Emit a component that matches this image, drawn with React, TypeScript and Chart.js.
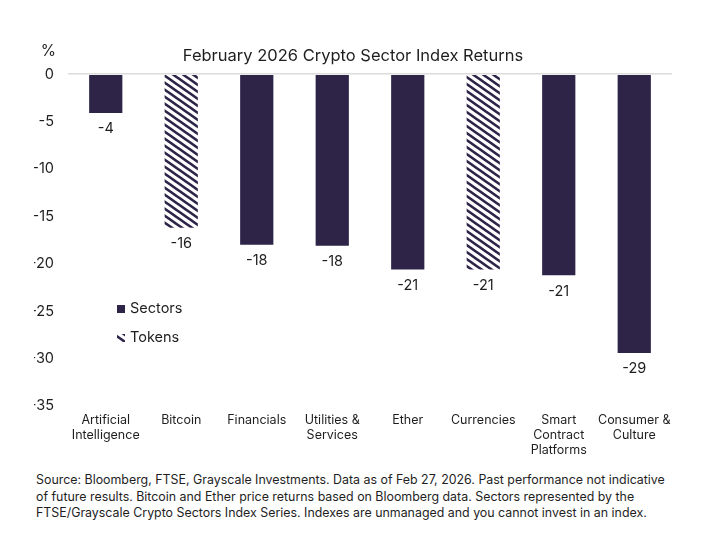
import React, { useEffect, useRef } from "react";
import { Chart, registerables } from "chart.js";

Chart.register(...registerables);

// Category labels (multi-line where the label wraps)
const categories: (string | string[])[] = [
  ["Artificial", "Intelligence"],
  "Bitcoin",
  "Financials",
  ["Utilities &", "Services"],
  "Ether",
  "Currencies",
  ["Smart", "Contract", "Platforms"],
  ["Consumer &", "Culture"],
];

// Monthly index returns, %
const sectorReturns: (number | null)[] = [-4.1, null, -18.0, -18.1, -20.6, null, -21.2, -29.4];
const tokenReturns: (number | null)[] = [null, -16.2, null, null, null, -20.6, null, null];

const seriesNames = ["Sectors", "Tokens"];
const yMin = -35;
const yMax = 0;
const yStep = 5;

const TITLE = "February 2026 Crypto Sector Index Returns";
const FOOTNOTE_LINES = [
  "Source: Bloomberg, FTSE, Grayscale Investments. Data as of Feb 27, 2026. Past performance not indicative",
  "of future results. Bitcoin and Ether price returns based on Bloomberg data. Sectors represented by the",
  "FTSE/Grayscale Crypto Sectors Index Series. Indexes are unmanaged and you cannot invest in an index.",
];

const NAVY = "#2e2448";
const TEXT = "#1e1e1e";
const FONT = "Inter, 'Noto Sans', sans-serif";

function makeHatch(): CanvasPattern | string {
  const w = 10;
  const h = 7;
  const c = document.createElement("canvas");
  c.width = w;
  c.height = h;
  const ctx = c.getContext("2d");
  if (!ctx) return NAVY;
  ctx.fillStyle = "#ffffff";
  ctx.fillRect(0, 0, w, h);
  ctx.strokeStyle = NAVY;
  ctx.lineWidth = 2.6;
  for (let k = -1; k <= 1; k++) {
    ctx.beginPath();
    ctx.moveTo(-w, -h + k * h);
    ctx.lineTo(2 * w, 2 * h + k * h);
    ctx.stroke();
  }
  return ctx.createPattern(c, "repeat") || NAVY;
}

const valueLabels = {
  id: "valueLabels",
  afterDatasetsDraw(chart: any) {
    const ctx = chart.ctx;
    ctx.save();
    ctx.font = `14.5px ${FONT}`;
    ctx.fillStyle = TEXT;
    ctx.textAlign = "center";
    ctx.textBaseline = "middle";
    chart.data.datasets.forEach((ds: any, i: number) => {
      const meta = chart.getDatasetMeta(i);
      meta.data.forEach((el: any, j: number) => {
        const v = ds.data[j];
        if (v === null || v === undefined) return;
        ctx.fillText(String(Math.round(v)), el.x, el.y + 16);
      });
    });
    ctx.restore();
  },
};

const extras = {
  id: "extras",
  afterDraw(chart: any) {
    const ctx = chart.ctx;
    const area = chart.chartArea;
    ctx.save();
    // unit label above the y axis
    ctx.font = `15.5px ${FONT}`;
    ctx.fillStyle = TEXT;
    ctx.textAlign = "right";
    ctx.textBaseline = "middle";
    ctx.fillText("%", area.left - 12, 43);

    // legend inside the plot area
    ctx.font = `14.5px ${FONT}`;
    ctx.textAlign = "left";
    chart.data.datasets.forEach((ds: any, i: number) => {
      const y = 301 + i * 29;
      const x = area.left + 49;
      ctx.fillStyle = ds.backgroundColor;
      ctx.fillRect(x, y - 4, 8, 8);
      ctx.fillStyle = TEXT;
      ctx.fillText(ds.label, x + 13, y);
    });
    ctx.restore();
  },
};

export default function App() {
  const ref = useRef<HTMLCanvasElement | null>(null);

  useEffect(() => {
    if (!ref.current) return;
    const hatch = makeHatch();
    const chart = new Chart(ref.current, {
      type: "bar",
      data: {
        labels: categories,
        datasets: [
          {
            label: seriesNames[0],
            data: sectorReturns,
            backgroundColor: NAVY,
            categoryPercentage: 1,
            barPercentage: 0.44,
          },
          {
            label: seriesNames[1],
            data: tokenReturns,
            backgroundColor: hatch as any,
            categoryPercentage: 1,
            barPercentage: 0.44,
          },
        ],
      },
      options: {
        animation: false,
        responsive: true,
        maintainAspectRatio: false,
        layout: { padding: { left: 26, right: 45, top: 0, bottom: 7 } },
        plugins: {
          legend: { display: false },
          tooltip: { enabled: false },
          title: {
            display: true,
            text: TITLE,
            color: TEXT,
            font: { family: FONT, size: 16.5, weight: "normal" },
            padding: { top: 38, bottom: 8.4 },
          },
        },
        scales: {
          x: {
            stacked: true,
            border: { display: false },
            grid: { display: false, drawTicks: false },
            ticks: {
              autoSkip: false,
              maxRotation: 0,
              padding: 7,
              color: TEXT,
              font: { family: FONT, size: 12.5, lineHeight: 1.2 },
            },
            afterFit(scale: any) {
              scale.height = 55;
            },
          },
          y: {
            min: yMin,
            max: yMax,
            border: { display: false },
            grid: {
              drawTicks: false,
              lineWidth: 1.5,
              color: (c: any) => (c.tick && c.tick.value === 0 ? "#dcdcdc" : "rgba(0,0,0,0)"),
            },
            ticks: {
              stepSize: yStep,
              padding: 14,
              color: TEXT,
              font: { family: FONT, size: 14.5 },
            },
            afterFit(scale: any) {
              scale.width = 34;
            },
          },
        },
      },
      plugins: [valueLabels, extras],
    });
    return () => chart.destroy();
  }, []);

  return (
    <div style={{ position: "relative", width: 709, height: 522, fontFamily: FONT }}>
      <div style={{ position: "absolute", left: 0, top: 0, width: 709, height: 460 }}>
        <canvas ref={ref} />
      </div>
      <div
        style={{
          position: "absolute",
          left: 28,
          top: 464,
          width: 680,
          fontSize: 12.4,
          lineHeight: "16.5px",
          color: TEXT,
          whiteSpace: "nowrap",
        }}
      >
        {FOOTNOTE_LINES.map((line, i) => (
          <div key={i}>{line}</div>
        ))}
      </div>
    </div>
  );
}
